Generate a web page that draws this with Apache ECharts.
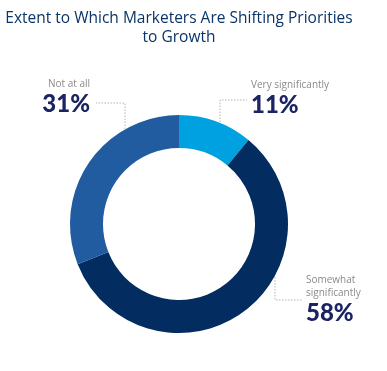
<!DOCTYPE html>
<html><head><meta charset="utf-8">
<script src="https://cdn.jsdelivr.net/npm/echarts@6/dist/echarts.min.js"></script>
<style>html,body{margin:0;padding:0;background:#fff}#c{width:387px;height:371px}</style>
</head><body><div id="c"></div>
<script>
const titleText = 'Extent to Which Marketers Are Shifting Priorities\nto Growth';
const categories = ['Very significantly', 'Somewhat\nsignificantly', 'Not at all'];
const values = [11, 58, 31];
const colors = ['#00A1E0', '#032D60', '#215CA0'];

// label placement (style only)
const labelSpots = [
  {x: 251, y: 79, align: 'left', line: [[220,128],[220,100],[247,100]]},
  {x: 306, y: 274, align: 'left', line: [[275,277],[275,300],[303,300]]},
  {x: 90, y: 78, align: 'right', line: [[125,129],[125,103],[96,103]]}
];

const chart = echarts.init(document.getElementById('c'), null, {renderer: 'canvas'});
chart.setOption({
  animation: false,
  title: {
    text: titleText,
    left: 174, top: 4, textAlign: 'center',
    textStyle: {fontFamily: 'Open Sans', fontSize: 15.5, fontWeight: 500, color: '#0A3568', lineHeight: 19}
  },
  series: [{
    type: 'pie',
    center: [179, 224],
    radius: [76, 109],
    startAngle: 90,
    clockwise: true,
    silent: true,
    data: categories.map((c, i) => ({name: c, value: values[i], itemStyle: {color: colors[i]}})),
    label: {
      show: true,
      overflow: 'none',
      formatter: p => '{n|' + p.name + '}\n{v|' + p.value + '%}',
      rich: {
        n: {fontFamily: 'Open Sans', fontSize: 10, color: '#8A8A8A', lineHeight: 13},
        v: {fontFamily: 'Lato', fontSize: 24, fontWeight: 900, color: '#1B2463', lineHeight: 26}
      }
    },
    labelLine: {show: true, lineStyle: {color: '#B5B5B5', width: 1, type: [1.5, 1.5]}},
    labelLayout: function (params) {
      const s = labelSpots[params.dataIndex];
      return {x: s.x, y: s.y, align: s.align, verticalAlign: 'top', width: 120, labelLinePoints: s.line};
    }
  }]
});
</script></body></html>
